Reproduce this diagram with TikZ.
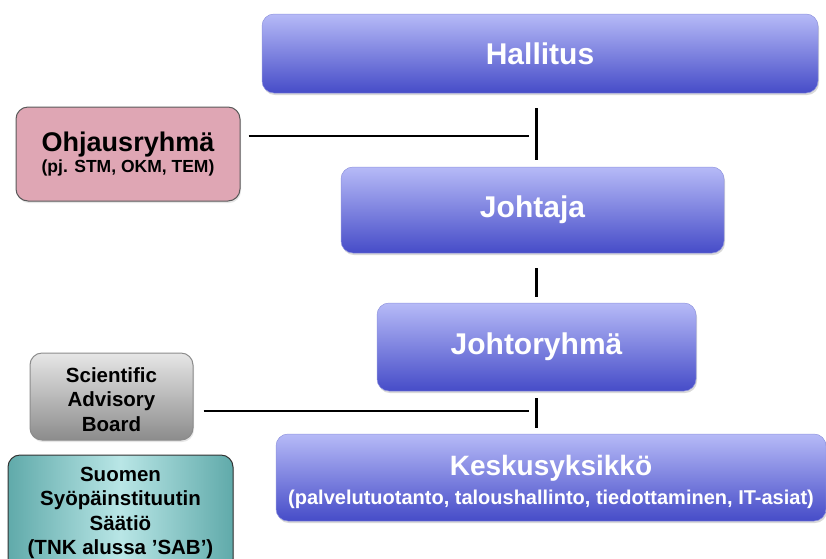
\documentclass[tikz,border=0pt]{standalone}
\usepackage{fontspec}
\setmainfont{Liberation Sans}
\usetikzlibrary{shadows}
\definecolor{boardtop}{RGB}{182,186,247}
\definecolor{boardbot}{RGB}{70,76,200}
\definecolor{steerpink}{RGB}{223,166,180}
\definecolor{sabtop}{RGB}{230,230,230}
\definecolor{sabbot}{RGB}{140,140,140}
\definecolor{tealdark}{RGB}{96,170,170}
\definecolor{teallight}{RGB}{185,230,230}
\definecolor{edgegray}{RGB}{90,90,90}

\begin{document}
\begin{tikzpicture}[x=1pt,y=-1pt,
    bluebox/.style={rounded corners=12pt,top color=boardtop,bottom color=boardbot,
      draw=boardbot!60!white,line width=0.5pt,text=white,inner sep=0pt,align=center,
      font=\bfseries\fontsize{30}{34}\selectfont,
      drop shadow={opacity=0.3,shadow xshift=1pt,shadow yshift=-2pt}},
    sidebox/.style={rounded corners=12pt,draw=edgegray,line width=1pt,text=black,
      inner sep=0pt,align=center,font=\bfseries\fontsize{20.5}{24.5}\selectfont,
      drop shadow={opacity=0.2,shadow xshift=1pt,shadow yshift=-2pt}},
    conn/.style={line width=2.2pt,black}]
    \useasboundingbox (0,0) rectangle (826,558);

    % Main line on the right
    \node[bluebox,minimum width=556pt,minimum height=79pt] (hallitus) at (540,53.5) {Hallitus};
    \node[bluebox,minimum width=383pt,minimum height=86pt] (johtaja) at (532.5,210) {Johtaja};
    \node[bluebox,minimum width=319pt,minimum height=88pt] (johtoryhma) at (536.5,347) {Johtoryhmä};
    \node[bluebox,minimum width=550pt,minimum height=87pt] (keskus) at (551,477.5)
      {{\fontsize{28}{30}\selectfont\rule{0pt}{30pt}Keskusyksikkö}\\[-5pt]
       {\fontsize{20}{22}\selectfont (palvelutuotanto, taloushallinto, tiedottaminen, IT-asiat)}};

    % Side boxes on the left
    \node[sidebox,fill=steerpink,minimum width=224pt,minimum height=94pt] (ohjaus) at (128,154)
      {{\fontsize{27}{30}\selectfont Ohjausryhmä}\\[-3pt]
       {\fontsize{17.5}{20}\selectfont (pj. STM, OKM, TEM)}};
    \node[sidebox,top color=sabtop,bottom color=sabbot,draw=sabbot,
      minimum width=163pt,minimum height=87pt] (sab) at (111.5,396.5)
      {\rule{0pt}{21pt}Scientific\\Advisory\\Board};
    \node[sidebox,left color=tealdark,right color=tealdark,middle color=teallight,
      draw=black!80,minimum width=225pt,minimum height=116pt] (saatio) at (120.5,513)
      {Suomen\\Syöpäinstituutin\\Säätiö\\(TNK alussa ’SAB’)};

    % Connectors
    \coordinate (tapA) at (529,136);
    \coordinate (tapB) at (529,411);
    \draw[conn,shorten <=15pt,shorten >=7pt] (hallitus.south -| johtoryhma.north) -- (johtaja.north -| johtoryhma.north);
    \draw[conn,shorten <=15pt,shorten >=6pt] (johtaja.south -| johtoryhma.north) -- (johtoryhma.north);
    \draw[conn,shorten <=7pt,shorten >=6pt] (johtoryhma.south) -- (keskus.north -| johtoryhma.south);
    \draw[conn,shorten <=8pt] (ohjaus.east |- tapA) -- (tapA);
    \draw[conn,shorten <=10pt] (sab.east |- tapB) -- (tapB);
\end{tikzpicture}
\end{document}
